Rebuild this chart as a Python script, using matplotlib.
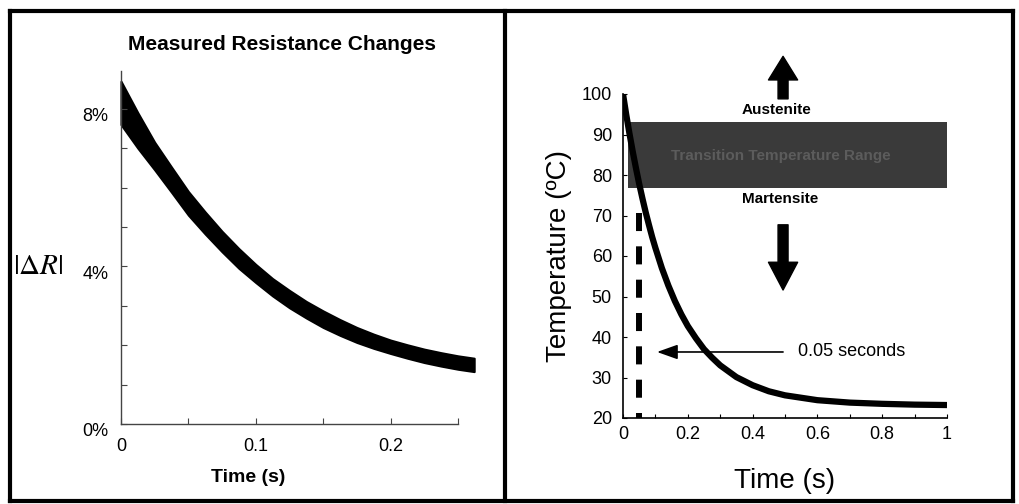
import matplotlib
matplotlib.use("Agg")
import matplotlib.pyplot as plt
from matplotlib.lines import Line2D
import matplotlib.transforms as mtransforms

plt.rcParams['font.family'] = ['Liberation Sans', 'DejaVu Sans']
plt.rcParams['mathtext.fontset'] = 'stix'
plt.rcParams['lines.scale_dashes'] = False

# left panel: measured resistance change band (envelope of the traces, %)
res_time = [0, 0.0125, 0.025, 0.0375, 0.05, 0.0625, 0.075, 0.0875, 0.1,
            0.1125, 0.125, 0.1375, 0.15, 0.1625, 0.175, 0.1875, 0.2,
            0.2125, 0.225, 0.2375, 0.25, 0.262]
res_upper = [8.70, 7.90, 7.15, 6.52, 5.90, 5.38, 4.89, 4.45, 4.05,
             3.69, 3.39, 3.11, 2.87, 2.65, 2.45, 2.28, 2.13,
             2.01, 1.90, 1.81, 1.73, 1.67]
res_lower = [7.60, 7.00, 6.45, 5.88, 5.30, 4.82, 4.37, 3.95, 3.59,
             3.25, 2.95, 2.69, 2.45, 2.25, 2.07, 1.92, 1.79,
             1.67, 1.56, 1.47, 1.39, 1.33]
res_yticks = [0, 4, 8]
res_yticklabels = ['0%', '4%', '8%']
res_xticks = [0, 0.1, 0.2]
res_xticklabels = ['0', '0.1', '0.2']

# right panel: temperature curve
temp_time = [0, 0.01, 0.02, 0.03, 0.04, 0.05, 0.06, 0.07, 0.08, 0.09, 0.1,
             0.12, 0.14, 0.16, 0.18, 0.2, 0.225, 0.25, 0.275, 0.3, 0.35,
             0.4, 0.45, 0.5, 0.6, 0.7, 0.8, 0.9, 1.0]
temp_val = [100, 94.9, 90.2, 85.8, 81.7, 77.8, 74.2, 70.8, 67.7, 64.7, 62,
            57, 52.7, 48.9, 45.6, 42.7, 39.7, 37, 34.9, 33, 30.1,
            28.1, 26.6, 25.6, 24.4, 23.8, 23.5, 23.3, 23.2]
band_low, band_high = 76.7, 93.2
band_start, band_end = 0.015, 1.0
marker_time = 0.05
temp_xticks = [0, 0.2, 0.4, 0.6, 0.8, 1.0]
temp_xticklabels = ['0', '0.2', '0.4', '0.6', '0.8', '1']
temp_yticks = [20, 30, 40, 50, 60, 70, 80, 90, 100]

W, H = 1019, 504
fig = plt.figure(figsize=(W / 100, H / 100), dpi=100)


def fx(px):
    return px / W


def fy(py):
    return 1 - py / H


# ---- left panel
ax1 = fig.add_axes([fx(121), fy(424), fx(458 - 121), 352.6 / H])
ax1.fill_between(res_time, res_lower, res_upper, color='black',
                 edgecolor='black', lw=1.5, clip_on=False)
ax1.set_xlim(0, 0.25)
ax1.set_ylim(0, 8.95)
ax1.set_yticks(res_yticks)
ax1.set_yticklabels(res_yticklabels)
ax1.set_yticks(range(0, 9), minor=True)
ax1.set_xticks(res_xticks)
ax1.set_xticklabels(res_xticklabels)
ax1.set_xticks([0.05, 0.15, 0.25], minor=True)
for s in ['top', 'right']:
    ax1.spines[s].set_visible(False)
for s in ['left', 'bottom']:
    ax1.spines[s].set_linewidth(1.0)
    ax1.spines[s].set_color('#444444')
ax1.tick_params(which='both', direction='in', length=4, width=0.8,
                color='#444444')
ax1.tick_params(axis='x', labelsize=13, pad=10)
ax1.tick_params(axis='y', labelsize=13, pad=9)
shift = mtransforms.ScaledTranslation(0, -0.06, fig.dpi_scale_trans)
for lab in ax1.get_yticklabels():
    lab.set_transform(lab.get_transform() + shift)
fig.text(fx(282), fy(45), 'Measured Resistance Changes', fontsize=15,
         fontweight='bold', ha='center', va='center')
fig.text(fx(248), fy(478), 'Time (s)', fontsize=14, fontweight='bold',
         ha='center', va='center')
fig.text(fx(38), fy(266), r'$\left|\Delta R\right|$', fontsize=21,
         ha='center', va='center')

# ---- right panel
ax2 = fig.add_axes([fx(623), fy(418), fx(324), 324 / H])
ax2.fill_between([band_start, band_end], band_low, band_high,
                 color='#3a3a3a', lw=0, zorder=1)
ax2.plot([marker_time, marker_time], [70.6, 20], color='black', lw=4.3,
         dashes=(13, 11), zorder=2, solid_capstyle='butt',
         dash_capstyle='butt')
ax2.plot(temp_time, temp_val, color='black', lw=4.5, zorder=3,
         solid_capstyle='butt')
ax2.set_xlim(0, 1)
ax2.set_ylim(20, 100)
ax2.set_xticks(temp_xticks)
ax2.set_xticklabels(temp_xticklabels)
ax2.set_xticks([0.1, 0.3, 0.5, 0.7, 0.9], minor=True)
ax2.set_yticks(temp_yticks)
for s in ['top', 'right']:
    ax2.spines[s].set_visible(False)
for s in ['left', 'bottom']:
    ax2.spines[s].set_linewidth(1.2)
ax2.tick_params(which='both', direction='in', length=3, width=0.8)
ax2.tick_params(axis='x', labelsize=13, pad=6)
ax2.tick_params(axis='y', labelsize=13, pad=8)
ax2.set_ylabel('Temperature (ºC)', fontsize=20, labelpad=7)
ax2.set_xlabel('Time (s)', fontsize=20, labelpad=18)

ax2.text(0.474, 96.0, 'Austenite', fontsize=11, fontweight='bold',
         ha='center', va='center', clip_on=False)
ax2.text(0.486, 84.7, 'Transition Temperature Range', fontsize=11,
         fontweight='bold', color='#5c5c5c', ha='center', va='center')
ax2.text(0.486, 74.1, 'Martensite', fontsize=11, fontweight='bold',
         ha='center', va='center')
ax2.text(0.54, 36.3, '0.05 seconds', fontsize=13, ha='left', va='center')

# thin pointer arrow to the dashed line
ax2.annotate('', xy=(0.105, 36.3), xytext=(0.494, 36.3),
             arrowprops=dict(arrowstyle='-|>,head_length=0.9,head_width=0.32',
                             lw=1.2, color='black', shrinkA=0, shrinkB=0,
                             mutation_scale=14))
# block arrows up and down
ax2.annotate('', xy=(0.494, 109.3), xytext=(0.494, 98.8),
             annotation_clip=False,
             arrowprops=dict(arrowstyle='simple,head_length=1.7,head_width=2.1,tail_width=0.72',
                             color='black', shrinkA=0, shrinkB=0,
                             mutation_scale=10))
ax2.annotate('', xy=(0.494, 51.6), xytext=(0.494, 67.7),
             arrowprops=dict(arrowstyle='simple,head_length=2.0,head_width=2.1,tail_width=0.72',
                             color='black', shrinkA=0, shrinkB=0,
                             mutation_scale=10))

# ---- frame around both panels
frame = [((10, 10), (11, 501)), ((10, 1013), (11, 11)),
         ((1013, 1013), (11, 501)), ((505, 505), (11, 501)),
         ((10, 1013), (501, 501))]
for xs, ys in frame:
    fig.add_artist(Line2D([fx(x) for x in xs], [fy(y) for y in ys],
                          color='black', lw=3, solid_capstyle='projecting'))

fig.savefig('out.png', dpi=100)
